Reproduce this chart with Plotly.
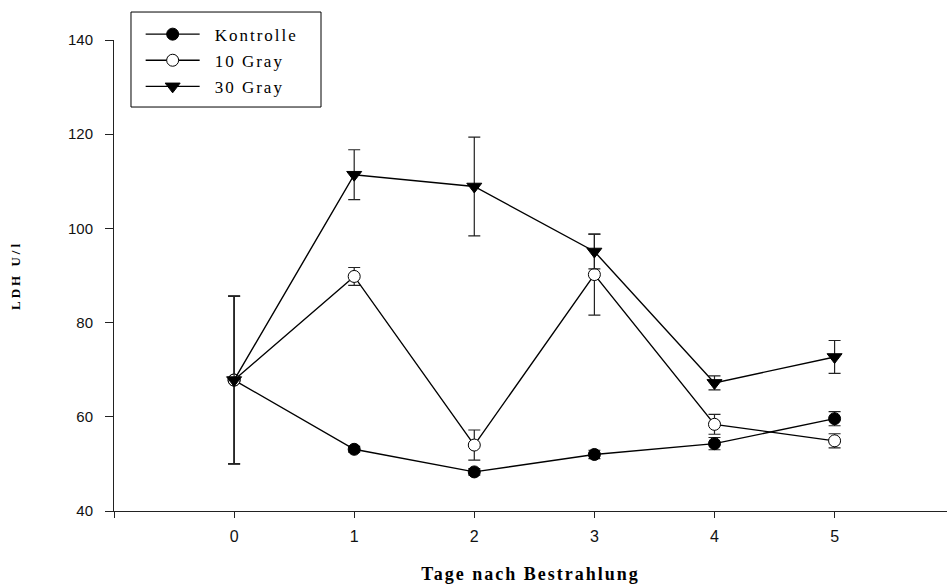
import plotly.graph_objects as go

days = [0, 1, 2, 3, 4, 5]
kontrolle = [67.8, 53.1, 48.3, 52.0, 54.3, 59.6]
kontrolle_err = [17.8, 0.6, 0.7, 0.9, 1.3, 1.5]
gray10 = [67.8, 89.8, 54.0, 90.2, 58.4, 54.9]
gray10_err = [17.8, 1.9, 3.2, 8.6, 2.1, 1.5]
gray30 = [67.8, 111.4, 108.9, 95.1, 67.2, 72.7]
gray30_err = [17.8, 5.3, 10.5, 3.7, 1.5, 3.5]

x_ticks = [-1, 0, 1, 2, 3, 4, 5]
x_ticktext = ["", "0", "1", "2", "3", "4", "5"]
y_ticks = [40, 60, 80, 100, 120, 140]

series = [
    ("Kontrolle", kontrolle, kontrolle_err, dict(symbol="circle", size=12, color="black", line=dict(color="black", width=1))),
    ("10 Gray", gray10, gray10_err, dict(symbol="circle", size=12, color="white", line=dict(color="black", width=1))),
    ("30 Gray", gray30, gray30_err, dict(symbol="triangle-down", size=13, color="black", line=dict(color="black", width=1))),
]

fig = go.Figure()
for name, vals, errs, mk in series:
    fig.add_trace(go.Scatter(
        x=days, y=vals, name=name, legendgroup=name,
        mode="lines+markers",
        line=dict(color="black", width=1.4),
        marker=mk,
        error_y=dict(type="data", array=errs, visible=True, color="#222", thickness=1.2, width=6),
    ))

fig.update_layout(
    width=947, height=585,
    margin=dict(l=114, r=0, t=40, b=74),
    paper_bgcolor="white", plot_bgcolor="white",
    showlegend=True,
    legend=dict(
        x=0.032, y=1.0497, xanchor="left", yanchor="top",
        bgcolor="rgba(0,0,0,0)", borderwidth=0,
        font=dict(family="Liberation Serif, Times New Roman, serif", size=17, color="black"),
        tracegroupgap=1, itemwidth=54,
    ),
    shapes=[dict(type="rect", xref="paper", yref="paper",
                 x0=0.0204, x1=0.2485, y0=0.8577, y1=1.0594,
                 line=dict(color="black", width=1), fillcolor="rgba(0,0,0,0)")],
)
fig.update_xaxes(
    range=[-1, 5.936], tickmode="array", tickvals=x_ticks, ticktext=x_ticktext,
    showline=True, linecolor="#222", linewidth=1, showgrid=False, zeroline=False,
    ticks="outside", ticklen=6, tickcolor="#222", ticklabelstandoff=5,
    tickfont=dict(family="Liberation Sans, Arial, sans-serif", size=16, color="#111"),
    title=dict(text="Tage nach Bestrahlung", standoff=23,
               font=dict(family="Liberation Serif, Times New Roman, serif", size=18, color="black", weight="bold")),
)
fig.update_yaxes(
    range=[40, 140], tickmode="array", tickvals=y_ticks,
    showline=True, linecolor="#222", linewidth=1, showgrid=False, zeroline=False,
    ticks="outside", ticklen=8, tickcolor="#222", ticklabelstandoff=9,
    tickfont=dict(family="Liberation Sans, Arial, sans-serif", size=15, color="#111"),
    title=dict(text="LDH U/l", standoff=44,
               font=dict(family="Liberation Serif, Times New Roman, serif", size=13, color="black", weight="bold")),
)

post = """
document.querySelectorAll('.xtitle').forEach(function(e){e.style.letterSpacing='2px';});
document.querySelectorAll('.ytitle').forEach(function(e){e.style.letterSpacing='3px';});
document.querySelectorAll('.legend [clip-path]').forEach(function(e){e.removeAttribute('clip-path');});
document.querySelectorAll('.legendtext').forEach(function(e){
  e.style.letterSpacing='2px';
  var x = parseFloat(e.getAttribute('x')) || 0;
  e.setAttribute('x', x + 10);
});
"""
fig.write_html("out.html", post_script=post)
